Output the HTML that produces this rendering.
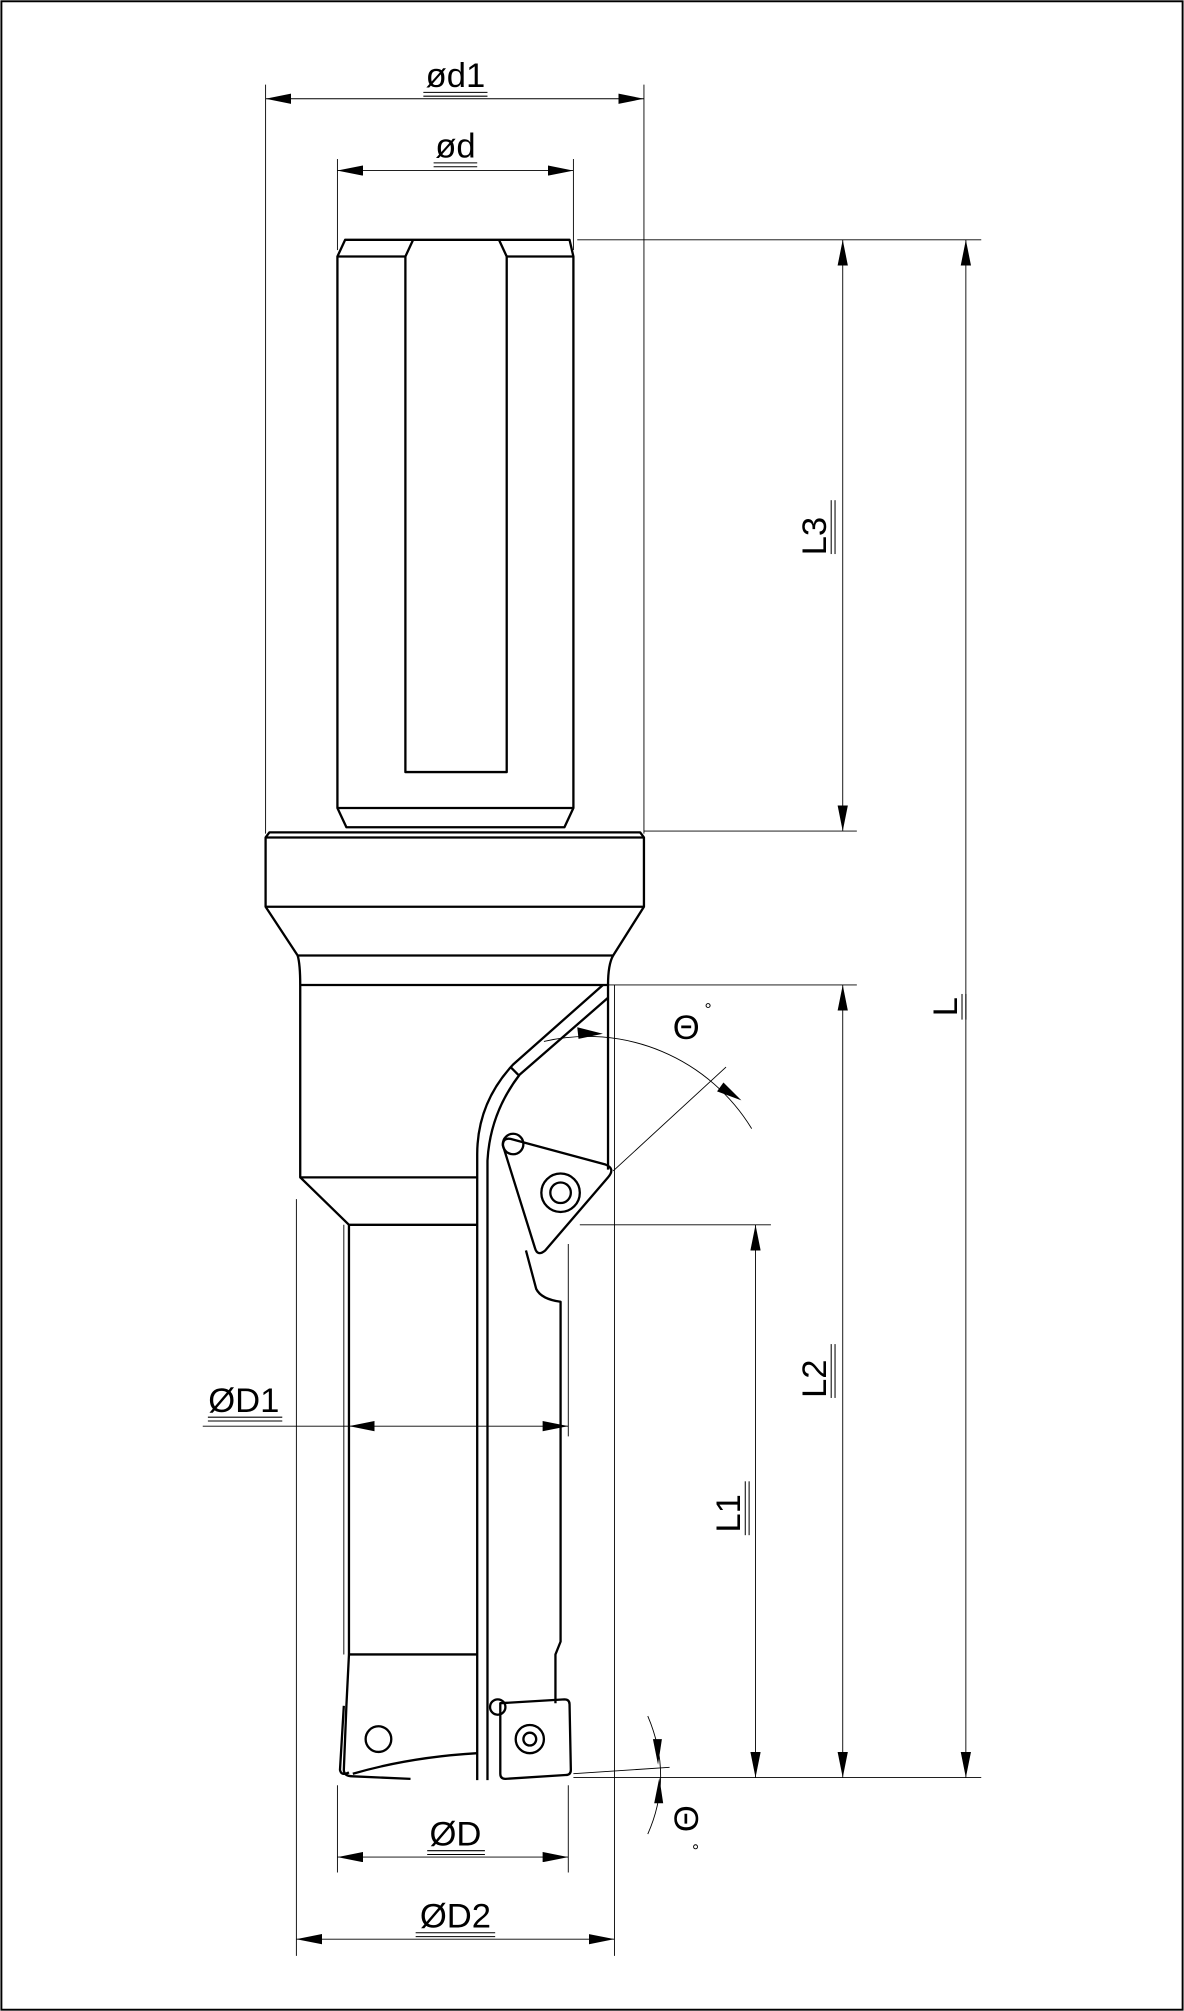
<!DOCTYPE html>
<html><head><meta charset="utf-8"><style>
html,body{margin:0;padding:0;background:#fff}
svg{display:block}
text{font-family:"Liberation Sans",sans-serif;fill:#000}
</style></head><body>
<svg width="1184" height="2011" viewBox="0 0 923 1568" xmlns="http://www.w3.org/2000/svg">
<defs>
<marker id="a" viewBox="0 0 20 8" refX="20" refY="4" markerWidth="20" markerHeight="8" orient="auto-start-reverse" markerUnits="userSpaceOnUse"><path d="M0,0 L20,4 L0,8 Z" fill="#000"/></marker>
</defs>
<rect x="1" y="1" width="921" height="1566" fill="#fff" stroke="#000" stroke-width="1.5"/>
<g fill="none" stroke="#000" stroke-width="0.7">
<line x1="207" y1="66" x2="207" y2="650"/><line x1="502" y1="66" x2="502" y2="650"/>
<line x1="263" y1="124" x2="263" y2="195"/><line x1="447" y1="124" x2="447" y2="195"/>
<line x1="450" y1="187" x2="765" y2="187"/><line x1="502" y1="648" x2="668" y2="648"/>
<line x1="474" y1="768" x2="668" y2="768"/><line x1="452" y1="955" x2="601" y2="955"/>
<line x1="447" y1="1386" x2="765" y2="1386"/>
<line x1="231" y1="935" x2="231" y2="1525"/><line x1="479" y1="768" x2="479" y2="1525"/>
<line x1="263" y1="1392" x2="263" y2="1460"/><line x1="443" y1="1392" x2="443" y2="1460"/>
<line x1="268" y1="955" x2="268" y2="1290"/><line x1="443" y1="970" x2="443" y2="1120"/>
<line x1="158" y1="1112" x2="272" y2="1112"/>
<line x1="207" y1="77" x2="502" y2="77" marker-start="url(#a)" marker-end="url(#a)"/>
<line x1="263" y1="133" x2="447" y2="133" marker-start="url(#a)" marker-end="url(#a)"/>
<line x1="753" y1="187" x2="753" y2="1386" marker-start="url(#a)" marker-end="url(#a)"/>
<line x1="657" y1="187" x2="657" y2="648" marker-start="url(#a)" marker-end="url(#a)"/>
<line x1="657" y1="768" x2="657" y2="1386" marker-start="url(#a)" marker-end="url(#a)"/>
<line x1="589" y1="955" x2="589" y2="1386" marker-start="url(#a)" marker-end="url(#a)"/>
<line x1="272" y1="1112" x2="443" y2="1112" marker-start="url(#a)" marker-end="url(#a)"/>
<line x1="263" y1="1448" x2="443" y2="1448" marker-start="url(#a)" marker-end="url(#a)"/>
<line x1="231" y1="1512" x2="479" y2="1512" marker-start="url(#a)" marker-end="url(#a)"/>
<line x1="478" y1="913" x2="566" y2="832"/>
<path d="M424,812 A150,150 0 0 1 586,880"/>
<line x1="447" y1="1383" x2="522" y2="1378"/>
<path d="M505,1338 Q525,1385 505,1430"/>
</g>
<g fill="#000">
<path d="M470,806 l-20,-5 l1,9 Z"/>
<path d="M578,858 l-14,-14 l-5,7 Z"/>
<path d="M513,1376 l-4,-20 l7,0 Z"/>
<path d="M514,1386 l-4,20 l7,0 Z"/>
</g>
<g fill="none" stroke="#000" stroke-width="1.8" stroke-linejoin="round">
<path d="M269,187 L444,187 L447,200 L447,630 L440,645 L270,645 L263,630 L263,200 Z"/>
<line x1="263" y1="200" x2="316" y2="200"/><line x1="395" y1="200" x2="447" y2="200"/>
<path d="M322,187 L316,200 L316,602 L395,602 L395,200 L389,187"/>
<line x1="263" y1="630" x2="447" y2="630"/>
<path d="M210,649 L499,649 L502,653 L502,707 L478,745 L232,745 L207,707 L207,653 Z"/>
<line x1="207" y1="653" x2="502" y2="653"/><line x1="207" y1="707" x2="502" y2="707"/>
<path d="M232,745 Q234,752 234,768 L234,918 L372,918"/>
<path d="M478,745 Q474,752 474,768 L474,912"/>
<line x1="234" y1="768" x2="474" y2="768"/>
<path d="M234,918 L272,955 L372,955"/>
<line x1="272" y1="955" x2="272" y2="1290"/>
<line x1="272" y1="1290" x2="372" y2="1290"/>
<path d="M372,1388 L372,900 Q372,860 400,830 L470,768"/>
<path d="M380,1388 L380,905 Q382,868 405,838 L474,778"/>
<line x1="398" y1="832" x2="404" y2="838"/>
<path d="M392,893 Q392,887 398,888 L472,908 Q480,911 474,918 L425,975 Q419,980 417,973 Z"/>
<circle cx="437" cy="930" r="15"/>
<circle cx="437" cy="930" r="8"/>
<circle cx="400" cy="892" r="8"/>
<path d="M410,975 L418,1005 Q422,1013 437,1015 L437,1280 L433,1290 L433,1328"/>
<path d="M272,1290 L270,1330 L268,1380 Q268,1385 275,1385 L320,1387"/>
<path d="M268,1330 L265,1380 Q266,1385 272,1382"/>
<path d="M275,1383 Q320,1370 372,1367"/>
<circle cx="295" cy="1356" r="10"/>
<path d="M390,1328 L440,1325 Q444,1325 444,1329 L445,1380 Q445,1384 441,1384 L394,1387 Q390,1387 390,1383 Z"/>
<circle cx="413" cy="1356" r="11"/>
<circle cx="413" cy="1356" r="5"/>
<circle cx="388" cy="1331" r="6"/>
</g>
<g font-size="27" text-anchor="middle">
<text x="355" y="68">ød1</text>
<text x="355" y="123">ød</text>
<text x="190" y="1101">ØD1</text>
<text x="355" y="1439">ØD</text>
<text x="355" y="1503">ØD2</text>
<text x="535" y="810" font-size="27">Θ</text>
<text x="552" y="792" font-size="14">°</text>
<text transform="translate(644,418) rotate(-90)">L3</text>
<text transform="translate(644,1075) rotate(-90)">L2</text>
<text transform="translate(577,1180) rotate(-90)">L1</text>
<text transform="translate(746,785) rotate(-90)">L</text>
<text transform="translate(544,1418) rotate(-90)" font-size="27">Θ</text>
<text transform="translate(550,1440) rotate(-90)" font-size="14">°</text>
</g>
<g stroke="#000" stroke-width="0.8">
<line x1="330" y1="72" x2="380" y2="72"/><line x1="330" y1="75" x2="380" y2="75"/>
<line x1="338" y1="127" x2="372" y2="127"/><line x1="338" y1="130" x2="372" y2="130"/>
<line x1="162" y1="1105" x2="220" y2="1105"/><line x1="162" y1="1108" x2="220" y2="1108"/>
<line x1="333" y1="1443" x2="378" y2="1443"/><line x1="333" y1="1446" x2="378" y2="1446"/>
<line x1="324" y1="1507" x2="386" y2="1507"/><line x1="324" y1="1510" x2="386" y2="1510"/>
<line x1="648" y1="390" x2="648" y2="432"/><line x1="651" y1="390" x2="651" y2="432"/>
<line x1="648" y1="1048" x2="648" y2="1090"/><line x1="651" y1="1048" x2="651" y2="1090"/>
<line x1="581" y1="1155" x2="581" y2="1197"/><line x1="584" y1="1155" x2="584" y2="1197"/>
<line x1="750" y1="775" x2="750" y2="795"/><line x1="753" y1="775" x2="753" y2="795"/>
</g>
</svg>
</body></html>
